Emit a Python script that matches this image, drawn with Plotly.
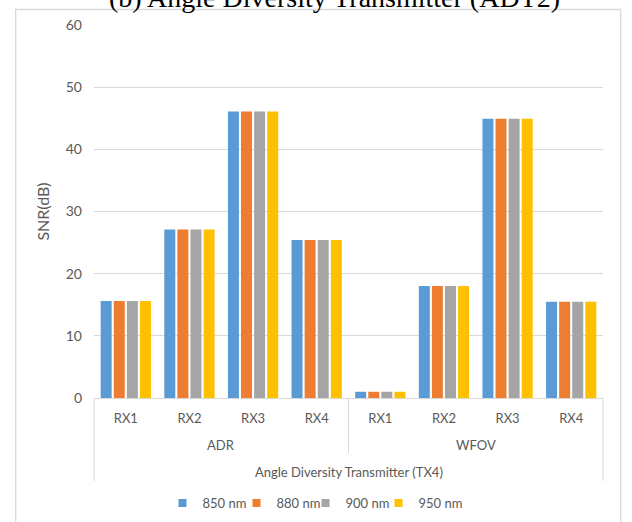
import plotly.graph_objects as go

groups = ["ADR"] * 4 + ["WFOV"] * 4
receivers = ["RX1", "RX2", "RX3", "RX4", "RX1", "RX2", "RX3", "RX4"]
categories = [g + " " + r for g, r in zip(groups, receivers)]
group_names = ["ADR", "WFOV"]
snr_850 = [15.6, 27.1, 46.1, 25.4, 1.0, 18.0, 44.9, 15.5]
snr_880 = [15.6, 27.1, 46.1, 25.4, 1.0, 18.0, 44.9, 15.5]
snr_900 = [15.6, 27.1, 46.1, 25.4, 1.0, 18.0, 44.9, 15.5]
snr_950 = [15.6, 27.1, 46.1, 25.4, 1.0, 18.0, 44.9, 15.5]
series_names = ["850 nm", "880 nm", "900 nm", "950 nm"]
colors = ["#5B9BD5", "#ED7D31", "#A5A5A5", "#FFC000"]
y_ticks = [0, 10, 20, 30, 40, 50, 60]

W, H = 632, 522
L, R, T, B = 94, 29, 25, 124
pw, ph = W - L - R, H - T - B

def px_x(p):
    return (p - L) / pw

def px_y(p):
    return (H - B - p) / ph

font = "Lato, 'Open Sans', sans-serif"
txt = "#595959"

legend_ids = ["legend", "legend2", "legend3", "legend4"]
legend_centers = [207, 281, 350, 423]

fig = go.Figure()
for name, vals, col in zip(series_names, [snr_850, snr_880, snr_900, snr_950], colors):
    fig.add_trace(go.Bar(x=categories, y=vals, name=name, showlegend=False, legendgroup=name,
                         marker=dict(color=col, line=dict(width=0))))
for name, col, lid in zip(series_names, colors, legend_ids):
    fig.add_trace(go.Scatter(x=[None], y=[None], mode="markers", name=name, legendgroup=name,
                             legend=lid, marker=dict(symbol="square", size=8, color=col)))

legend_cfg = {}
for lid, cx in zip(legend_ids, legend_centers):
    legend_cfg[lid] = dict(orientation="h", x=px_x(cx), xanchor="center", y=px_y(503),
                           yanchor="middle", font=dict(size=13, color=txt, family=font),
                           itemwidth=30, bgcolor="rgba(0,0,0,0)", itemclick=False,
                           itemdoubleclick=False)

fig.update_layout(
    width=W, height=H,
    margin=dict(l=L, r=R, t=T, b=B, autoexpand=False),
    paper_bgcolor="white", plot_bgcolor="white",
    barmode="group", bargap=0.177, bargroupgap=0.16,
    font=dict(family=font, size=13, color=txt),
    showlegend=True,
    xaxis=dict(type="category", tickvals=categories, ticktext=receivers,
               showline=True, linecolor="#d9d9d9", linewidth=1,
               showgrid=False, ticks="", ticklabelstandoff=8,
               tickfont=dict(size=13, color=txt), automargin=False),
    yaxis=dict(range=[0, 60], tickvals=y_ticks, showgrid=True, gridcolor="#d9d9d9",
               gridwidth=1, zeroline=False, showline=False, ticks="",
               tickfont=dict(size=14, color=txt), ticklabelstandoff=11,
               title=dict(text="SNR(dB)", font=dict(size=16, color=txt), standoff=12),
               automargin=False),
    **legend_cfg,
)

line_style = dict(color="#d9d9d9", width=1)
shapes = [
    dict(type="line", xref="paper", yref="paper", x0=0, x1=0, y0=0, y1=px_y(481), line=line_style),
    dict(type="line", xref="paper", yref="paper", x0=1, x1=1, y0=0, y1=px_y(481), line=line_style),
    dict(type="line", xref="paper", yref="paper", x0=0.5, x1=0.5, y0=0, y1=px_y(453), line=line_style),
    dict(type="rect", xref="paper", yref="paper", x0=px_x(15.7), x1=px_x(620.7),
         y0=px_y(540), y1=px_y(9.5), line=dict(color="#d9d9d9", width=1.3), fillcolor="rgba(0,0,0,0)"),
]
fig.update_layout(shapes=shapes)

for i, g in enumerate(group_names):
    fig.add_annotation(text=g, xref="paper", yref="paper", x=0.25 + 0.5 * i, y=px_y(445),
                       xanchor="center", yanchor="middle", showarrow=False,
                       font=dict(size=13, color=txt, family=font))
fig.add_annotation(text="Angle Diversity Transmitter (TX4)", xref="paper", yref="paper",
                   x=0.5, y=px_y(472), xanchor="center", yanchor="middle", showarrow=False,
                   font=dict(size=13, color=txt, family=font))
fig.add_annotation(text="(b) Angle Diversity Transmitter (ADT2)", xref="paper", yref="paper",
                   x=px_x(334), y=px_y(7.5), xanchor="center", yanchor="bottom", showarrow=False,
                   yshift=-7,
                   font=dict(size=28, color="black", family="'Liberation Serif', 'Times New Roman', serif"))

fig.write_html("out.html", config={"displayModeBar": False},
               post_script="document.body.style.margin='0';")
